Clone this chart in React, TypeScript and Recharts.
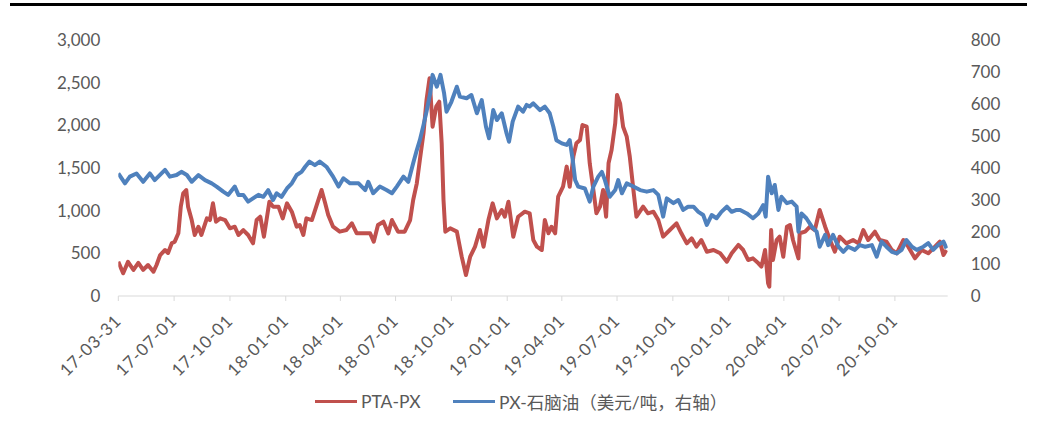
import React from 'react';
import { LineChart, Line, XAxis, YAxis } from 'recharts';

const BASE = Date.UTC(2017, 2, 31);
const DAY = 86400000;
const END_DAY = 1367;

// PTA-PX (left axis): days since 2017-03-31 and values
const ptaDays = [0, 8, 16, 25, 33, 41, 49, 58, 63, 69, 77, 82, 88, 93, 99, 103, 107, 112, 115, 121, 126, 132, 137, 146, 151, 156, 161, 168, 176, 184, 192, 198, 206, 214, 222, 228, 234, 240, 249, 255, 264, 271, 278, 286, 294, 299, 305, 310, 319, 327, 335, 341, 346, 354, 365, 376, 385, 393, 404, 415, 421, 428, 437, 445, 451, 461, 472, 481, 486, 492, 497, 503, 508, 513, 518, 524, 529, 533, 536, 539, 547, 558, 566, 573, 580, 588, 596, 602, 610, 617, 624, 632, 637, 643, 651, 659, 670, 678, 684, 690, 698, 703, 709, 714, 720, 725, 733, 739, 744, 750, 755, 761, 765, 772, 777, 783, 788, 794, 799, 804, 808, 813, 819, 822, 827, 832, 838, 843, 849, 854, 865, 873, 882, 890, 898, 909, 920, 928, 937, 945, 953, 961, 970, 981, 992, 1003, 1011, 1022, 1030, 1038, 1046, 1055, 1060, 1066, 1071, 1073, 1076, 1079, 1085, 1090, 1096, 1102, 1107, 1112, 1121, 1123, 1132, 1140, 1148, 1156, 1165, 1173, 1181, 1189, 1200, 1211, 1220, 1228, 1236, 1247, 1255, 1266, 1275, 1283, 1294, 1302, 1313, 1324, 1335, 1346, 1354, 1360, 1365];
const ptaValues = [402, 266, 400, 305, 387, 305, 363, 285, 363, 480, 539, 504, 617, 637, 735, 1047, 1203, 1242, 1047, 890, 715, 812, 715, 910, 890, 1086, 871, 910, 890, 793, 812, 715, 773, 715, 617, 890, 929, 695, 1105, 1047, 1047, 910, 1086, 988, 812, 832, 715, 910, 890, 1066, 1242, 1086, 949, 812, 754, 773, 852, 735, 735, 735, 637, 832, 871, 733, 890, 754, 754, 890, 1125, 1320, 1594, 1907, 2297, 2551, 1984, 2219, 2277, 1789, 1125, 754, 793, 754, 461, 246, 461, 578, 773, 578, 890, 1086, 910, 1008, 929, 1105, 695, 929, 988, 969, 656, 578, 539, 890, 735, 812, 735, 1164, 1281, 1516, 1281, 1633, 1789, 1828, 2004, 1984, 1555, 1242, 969, 1047, 1242, 929, 1555, 1711, 2024, 2356, 2258, 1984, 1867, 1633, 1242, 929, 1047, 969, 988, 890, 695, 773, 852, 735, 617, 676, 578, 656, 519, 539, 500, 402, 500, 598, 539, 422, 441, 383, 344, 539, 149, 109, 773, 422, 656, 695, 461, 812, 832, 656, 441, 735, 754, 812, 773, 1008, 812, 656, 519, 695, 617, 656, 617, 773, 656, 754, 656, 637, 539, 500, 656, 578, 441, 539, 500, 578, 637, 480, 539];

// PX-naphtha (right axis, USD/t): days since 2017-03-31 and values
const pxDays = [0, 11, 19, 30, 41, 52, 60, 77, 85, 96, 104, 113, 121, 132, 143, 154, 162, 173, 181, 192, 198, 206, 214, 222, 231, 239, 247, 255, 261, 269, 278, 286, 294, 302, 308, 315, 324, 332, 343, 354, 363, 371, 382, 396, 407, 412, 420, 431, 442, 451, 459, 470, 478, 486, 492, 497, 503, 508, 514, 518, 525, 531, 537, 541, 549, 558, 563, 574, 582, 591, 599, 606, 611, 618, 624, 632, 640, 644, 650, 659, 667, 673, 678, 684, 695, 703, 711, 717, 722, 731, 739, 744, 749, 753, 758, 769, 777, 783, 791, 797, 802, 810, 819, 824, 830, 838, 849, 860, 871, 882, 890, 898, 904, 915, 923, 931, 939, 948, 956, 964, 970, 978, 986, 994, 1003, 1011, 1019, 1025, 1036, 1046, 1055, 1063, 1067, 1071, 1077, 1082, 1088, 1093, 1102, 1110, 1118, 1121, 1126, 1134, 1143, 1151, 1156, 1165, 1170, 1178, 1187, 1195, 1203, 1214, 1222, 1231, 1242, 1250, 1258, 1266, 1275, 1283, 1291, 1299, 1308, 1316, 1327, 1335, 1343, 1351, 1360, 1365];
const pxValues = [383, 352, 373, 383, 357, 383, 362, 394, 373, 378, 388, 378, 357, 378, 362, 352, 342, 326, 316, 342, 316, 316, 295, 305, 316, 310, 331, 300, 321, 310, 336, 352, 378, 388, 404, 420, 409, 420, 404, 373, 342, 368, 352, 352, 331, 357, 321, 342, 331, 321, 342, 373, 357, 415, 456, 487, 534, 576, 633, 691, 654, 691, 633, 576, 607, 654, 623, 618, 628, 571, 612, 529, 493, 581, 550, 571, 508, 482, 545, 592, 576, 597, 592, 602, 581, 592, 571, 529, 487, 477, 472, 487, 425, 362, 342, 336, 295, 342, 373, 388, 362, 310, 331, 362, 321, 352, 342, 331, 326, 331, 316, 248, 305, 290, 300, 269, 279, 279, 263, 253, 222, 253, 243, 263, 279, 263, 269, 269, 258, 243, 258, 284, 248, 373, 321, 347, 269, 310, 290, 295, 279, 201, 258, 243, 217, 201, 154, 191, 159, 191, 154, 138, 154, 144, 159, 154, 159, 123, 170, 154, 138, 133, 144, 175, 154, 144, 154, 165, 144, 159, 170, 149];

const tickLabels = ['17-03-31', '17-07-01', '17-10-01', '18-01-01', '18-04-01', '18-07-01', '18-10-01', '19-01-01', '19-04-01', '19-07-01', '19-10-01', '20-01-01', '20-04-01', '20-07-01', '20-10-01'];
const leftTicks = [0, 500, 1000, 1500, 2000, 2500, 3000];
const rightTicks = [0, 100, 200, 300, 400, 500, 600, 700, 800];

const seriesNames = ['PTA-PX', 'PX-石脑油（美元/吨，右轴）'];
const RED = '#C0504D';
const BLUE = '#4F81BD';
const TEXT = '#595959';
const FONT = "Lato, 'Noto Sans CJK SC', sans-serif";

const labelToTs = (s: string) => {
  const [y, m, d] = s.split('-').map(Number);
  return Date.UTC(2000 + y, m - 1, d);
};
const tickTs = tickLabels.map(labelToTs);
const tsToLabel: Record<number, string> = {};
tickLabels.forEach((l, i) => { tsToLabel[tickTs[i]] = l; });

const ptaData = ptaDays.map((d, i) => ({ t: BASE + d * DAY, v: ptaValues[i] }));
const pxData = pxDays.map((d, i) => ({ t: BASE + d * DAY, v: pxValues[i] }));

const XTick = (props: any) => {
  const { x, y, payload } = props;
  const label = tsToLabel[payload.value] ?? '';
  return (
    <text
      x={0}
      y={0}
      transform={`translate(${x + 4},${y + 19}) rotate(-45)`}
      textAnchor="end"
      fill={TEXT}
      fontSize={17}
      letterSpacing={0.8}
      fontFamily={FONT}
    >
      {label}
    </text>
  );
};

const LegendItem = ({ color, text, left }: { color: string; text: string; left: number }) => (
  <div style={{ position: 'absolute', left, top: 0, height: 22, display: 'flex', alignItems: 'center' }}>
    <div style={{ width: 42, height: 3, background: color, marginRight: 4 }} />
    <span style={{ fontSize: 17.5, color: TEXT, fontFamily: FONT, whiteSpace: 'nowrap' }}>{text}</span>
  </div>
);

export default function App() {
  return (
    <div style={{ position: 'absolute', left: 0, top: 0, width: 1037, height: 435, background: '#fff' }}>
      <div style={{ position: 'absolute', left: 10, top: 3, width: 1017, height: 2.5, background: '#000' }} />
      <LineChart
        width={1037}
        height={435}
        margin={{ top: 40, right: 29.3, bottom: 109, left: 58.3 }}
      >
        <XAxis
          dataKey="t"
          type="number"
          domain={[BASE, BASE + END_DAY * DAY]}
          ticks={tickTs}
          interval={0}
          height={30}
          stroke="#d9d9d9"
          tickSize={5}
          tickMargin={2}
          tick={<XTick />}
          allowDataOverflow
        />
        <YAxis
          yAxisId="left"
          orientation="left"
          domain={[0, 3000]}
          ticks={leftTicks}
          width={60}
          axisLine={false}
          tickLine={false}
          tickSize={0}
          tickMargin={18}
          tickFormatter={(v: number) => v.toLocaleString('en-US')}
          tick={{ fill: TEXT, fontSize: 17, fontFamily: FONT }}
        />
        <YAxis
          yAxisId="right"
          orientation="right"
          domain={[0, 800]}
          ticks={rightTicks}
          width={60}
          axisLine={false}
          tickLine={false}
          tickSize={0}
          tickMargin={23}
          tick={{ fill: TEXT, fontSize: 17, fontFamily: FONT }}
        />
        <Line
          yAxisId="left"
          data={ptaData}
          dataKey="v"
          name={seriesNames[0]}
          stroke={RED}
          strokeWidth={4}
          dot={false}
          isAnimationActive={false}
          strokeLinejoin="round"
        />
        <Line
          yAxisId="right"
          data={pxData}
          dataKey="v"
          name={seriesNames[1]}
          stroke={BLUE}
          strokeWidth={4}
          dot={false}
          isAnimationActive={false}
          strokeLinejoin="round"
        />
      </LineChart>
      <div style={{ position: 'absolute', left: 0, top: 390, width: 1037, height: 22 }}>
        <LegendItem color={RED} text={seriesNames[0]} left={315} />
        <LegendItem color={BLUE} text={seriesNames[1]} left={453} />
      </div>
    </div>
  );
}
